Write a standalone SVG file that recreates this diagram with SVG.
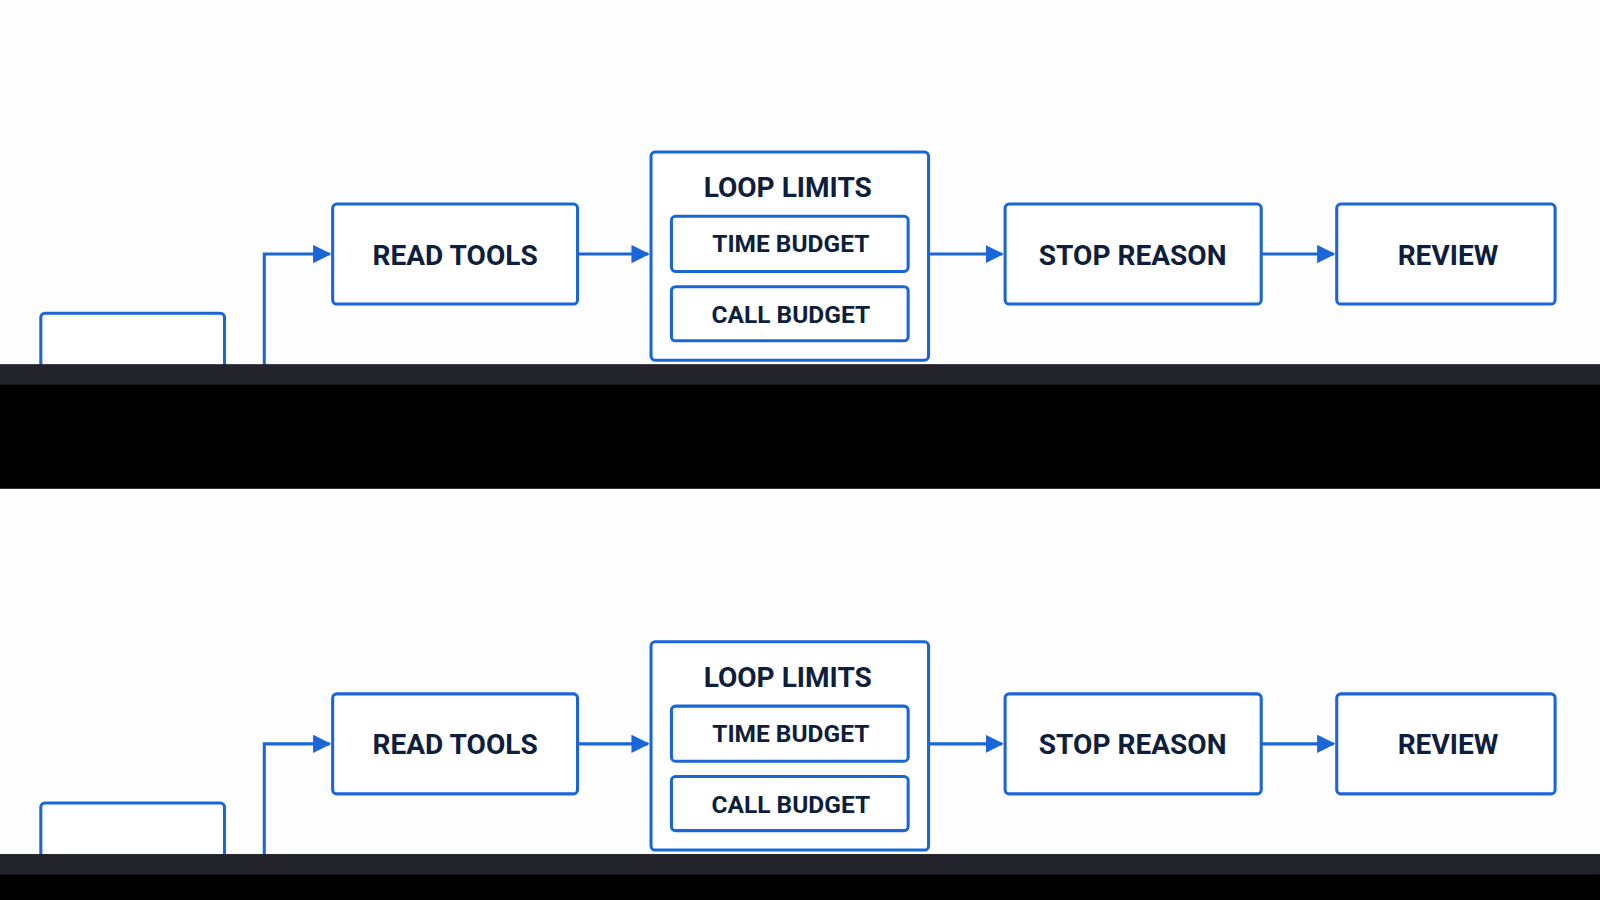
<svg xmlns="http://www.w3.org/2000/svg" width="1600" height="900" viewBox="0 0 1600 900">
<style>
.b{fill:#fff;stroke:#1a66d6;stroke-width:3}
.c{fill:none;stroke:#1a66d6;stroke-width:3}
.t{font-family:"Roboto","Liberation Sans",sans-serif;font-weight:700;fill:#0f1e3c;text-anchor:middle;dominant-baseline:central}
</style>
<defs>
<marker id="m" viewBox="0 0 10 10" refX="9" refY="5" markerWidth="18" markerHeight="18" markerUnits="userSpaceOnUse" orient="auto"><path d="M0,0 L10,5 L0,10 z" fill="#1a66d6"/></marker>
<g id="copy">
<g id="connectors">
<path class="c" d="M259,360 V249 H323" marker-end="url(#m)"/>
<path class="c" d="M566,249 H635" marker-end="url(#m)"/>
<path class="c" d="M910,249 H982" marker-end="url(#m)"/>
<path class="c" d="M1236,249 H1307" marker-end="url(#m)"/>
</g>
<g id="start"><rect class="b" x="40" y="307" width="180" height="70" rx="4"/></g>
<g id="read"><rect class="b" x="326" y="200" width="240" height="98" rx="4"/><text class="t" x="446" y="250" font-size="27.5">READ TOOLS</text></g>
<g id="loop"><rect class="b" x="638" y="149" width="272" height="204" rx="4"/><text class="t" x="772" y="184" font-size="27.5">LOOP LIMITS</text>
<rect class="b" x="658" y="212" width="232" height="54" rx="4"/><text class="t" x="775" y="239" font-size="24">TIME BUDGET</text>
<rect class="b" x="658" y="281" width="232" height="53" rx="4"/><text class="t" x="775" y="308" font-size="24">CALL BUDGET</text></g>
<g id="stop"><rect class="b" x="985" y="200" width="251" height="98" rx="4"/><text class="t" x="1110" y="250" font-size="27.5">STOP REASON</text></g>
<g id="review"><rect class="b" x="1310" y="200" width="214" height="98" rx="4"/><text class="t" x="1419" y="250" font-size="27.5">REVIEW</text></g>
</g>
</defs>
<g transform="scale(1.0204)">
<rect width="1568" height="882" fill="#fefefe"/>
<use href="#copy"/>
<use href="#copy" y="480"/>
<rect x="0" y="357" width="1568" height="122" fill="#000"/>
<rect x="0" y="357" width="1568" height="20" fill="#3a3a4a" opacity="0.6"/>
<rect x="0" y="837" width="1568" height="50" fill="#000"/>
<rect x="0" y="837" width="1568" height="20" fill="#3a3a4a" opacity="0.6"/>
</g>
</svg>
